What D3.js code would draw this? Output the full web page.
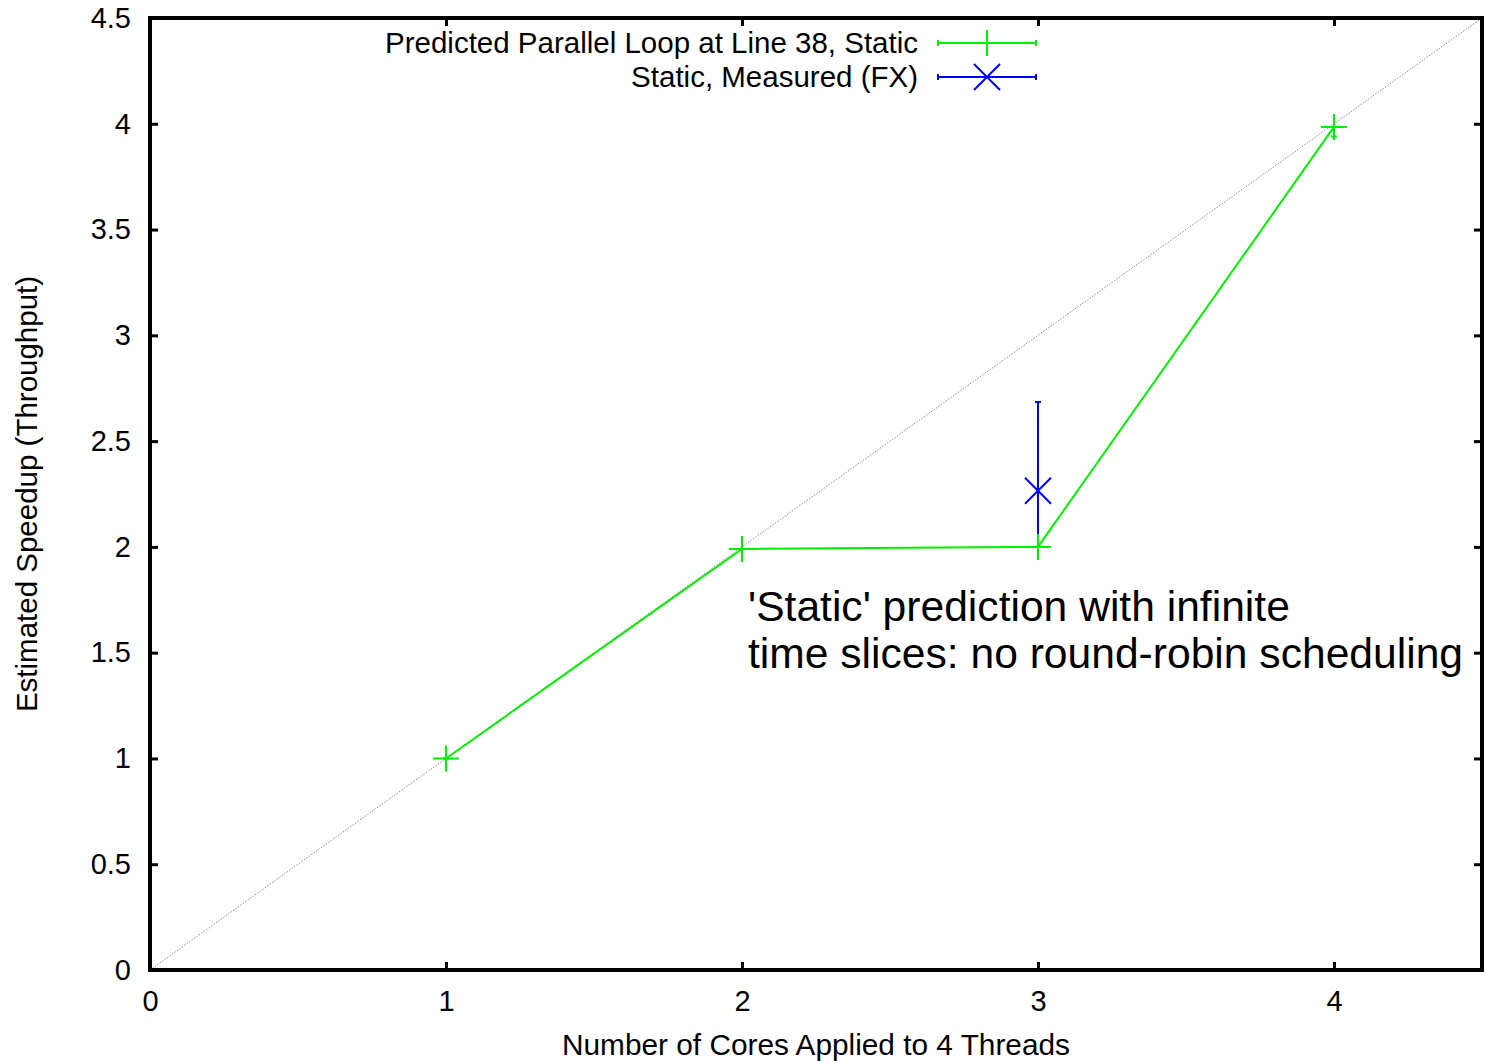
<!DOCTYPE html>
<html>
<head>
<meta charset="utf-8">
<script src="https://cdn.jsdelivr.net/npm/d3@7"></script>
<style>
  body { margin: 0; background: #fff; }
  text { font-family: "Liberation Sans", Arial, sans-serif; }
</style>
</head>
<body>
<svg width="1485" height="1061"></svg>
<script>
// predicted series (green)
var cores = [1, 2, 3, 4];
var predicted = [1.0, 1.99, 2.0, 3.985];
var predLow = [1.0, 1.99, 2.0, 3.94];
var predHigh = [1.0, 1.99, 2.0, 3.985];

// measured series (blue)
var measCores = [3];
var measured = [2.265];
var measLow = [2.0];
var measHigh = [2.685];

var xTicks = [0, 1, 2, 3, 4];
var yTicks = [0, 0.5, 1, 1.5, 2, 2.5, 3, 3.5, 4, 4.5];
var legendLabels = ["Predicted Parallel Loop at Line 38, Static", "Static, Measured (FX)"];

var svg = d3.select("svg");
var margin = {left: 150, top: 18, right: 3, bottom: 91};
var width = +svg.attr("width") - margin.left - margin.right,
    height = +svg.attr("height") - margin.top - margin.bottom;

var g = svg.append("g")
    .attr("transform", "translate(" + margin.left + "," + margin.top + ")");

var x = d3.scaleLinear().domain([0, 4.5]).range([0, width]);
var y = d3.scaleLinear().domain([0, 4.5]).range([height, 0]);

// diagonal reference
g.append("line")
    .attr("x1", x(0)).attr("y1", y(0))
    .attr("x2", x(4.5)).attr("y2", y(4.5))
    .attr("stroke", "#888")
    .attr("stroke-width", 1)
    .attr("stroke-dasharray", "1.5,1.5");

// axes, ticks pointing inward on all four sides
function styleAxis(sel) {
    sel.select(".domain").remove();
    sel.selectAll(".tick line").attr("stroke", "#000").attr("stroke-width", 3);
    sel.selectAll("text").style("font-size", "29px").attr("fill", "#000");
}
g.append("g").attr("transform", "translate(0," + height + ")")
    .call(d3.axisBottom(x).tickValues(xTicks).tickSize(-8).tickPadding(20).tickFormat(d3.format("d")))
    .call(styleAxis);
g.append("g")
    .call(d3.axisTop(x).tickValues(xTicks).tickSize(-8).tickFormat(""))
    .call(styleAxis);
g.append("g")
    .call(d3.axisLeft(y).tickValues(yTicks).tickSize(-8).tickPadding(19).tickFormat(d3.format("")))
    .call(styleAxis);
g.append("g").attr("transform", "translate(" + width + ",0)")
    .call(d3.axisRight(y).tickValues(yTicks).tickSize(-8).tickFormat(""))
    .call(styleAxis);

// frame
g.append("rect")
    .attr("width", width).attr("height", height)
    .attr("fill", "none").attr("stroke", "#000").attr("stroke-width", 4);

var green = "#00ee00", blue = "#0000ff";
var ms = 13;

// predicted line
var line = d3.line().x(function(d, i) { return x(cores[i]); }).y(function(d) { return y(d); });
g.append("path").datum(predicted)
    .attr("d", line)
    .attr("fill", "none").attr("stroke", green).attr("stroke-width", 2);

// error bars
function errBars(xs, lo, hi, col) {
    g.selectAll(null).data(xs).enter().append("line")
        .attr("x1", function(d) { return x(d); }).attr("x2", function(d) { return x(d); })
        .attr("y1", function(d, i) { return y(lo[i]); }).attr("y2", function(d, i) { return y(hi[i]); })
        .attr("stroke", col).attr("stroke-width", 2);
    [lo, hi].forEach(function(arr) {
        g.selectAll(null).data(xs).enter().append("line")
            .attr("x1", function(d) { return x(d) - 3; }).attr("x2", function(d) { return x(d) + 3; })
            .attr("y1", function(d, i) { return y(arr[i]); }).attr("y2", function(d, i) { return y(arr[i]); })
            .attr("stroke", col).attr("stroke-width", 2);
    });
}
errBars(cores, predLow, predHigh, green);
errBars(measCores, measLow, measHigh, blue);

// markers
function plus(sel, cx, cy, col) {
    sel.append("path")
        .attr("d", "M" + (cx - ms) + "," + cy + "H" + (cx + ms) + "M" + cx + "," + (cy - ms) + "V" + (cy + ms))
        .attr("stroke", col).attr("stroke-width", 2).attr("fill", "none");
}
function cross(sel, cx, cy, col) {
    var s = ms;
    sel.append("path")
        .attr("d", "M" + (cx - s) + "," + (cy - s) + "L" + (cx + s) + "," + (cy + s) +
                   "M" + (cx - s) + "," + (cy + s) + "L" + (cx + s) + "," + (cy - s))
        .attr("stroke", col).attr("stroke-width", 2).attr("fill", "none");
}
cores.forEach(function(c, i) { plus(g, x(c), y(predicted[i]), green); });
measCores.forEach(function(c, i) { cross(g, x(c), y(measured[i]), blue); });

// legend
var legend = svg.append("g");
var legCols = [green, blue];
legendLabels.forEach(function(lab, i) {
    var ly = 43 + i * 34;
    legend.append("text")
        .attr("x", 918).attr("y", ly + 10)
        .attr("text-anchor", "end")
        .style("font-size", "29.5px")
        .text(lab);
    legend.append("line")
        .attr("x1", 938).attr("x2", 1036).attr("y1", ly).attr("y2", ly)
        .attr("stroke", legCols[i]).attr("stroke-width", 2);
    [938, 1036].forEach(function(ex) {
        legend.append("line")
            .attr("x1", ex).attr("x2", ex).attr("y1", ly - 3).attr("y2", ly + 3)
            .attr("stroke", legCols[i]).attr("stroke-width", 2);
    });
    if (i === 0) plus(legend, 987, ly, green);
    else cross(legend, 987, ly, blue);
});

// annotation
var note = svg.append("text").attr("x", 748).attr("y", 621).style("font-size", "42.6px").attr("fill", "#000");
note.append("tspan").attr("x", 748).text("'Static' prediction with infinite");
note.append("tspan").attr("x", 748).attr("dy", 47).text("time slices: no round-robin scheduling");

// axis titles
svg.append("text")
    .attr("x", margin.left + width / 2).attr("y", 1055)
    .attr("text-anchor", "middle")
    .style("font-size", "29.8px")
    .text("Number of Cores Applied to 4 Threads");
svg.append("text")
    .attr("transform", "translate(37," + (margin.top + height / 2) + ") rotate(-90)")
    .attr("text-anchor", "middle")
    .style("font-size", "29.5px")
    .text("Estimated Speedup (Throughput)");
</script>
</body>
</html>
